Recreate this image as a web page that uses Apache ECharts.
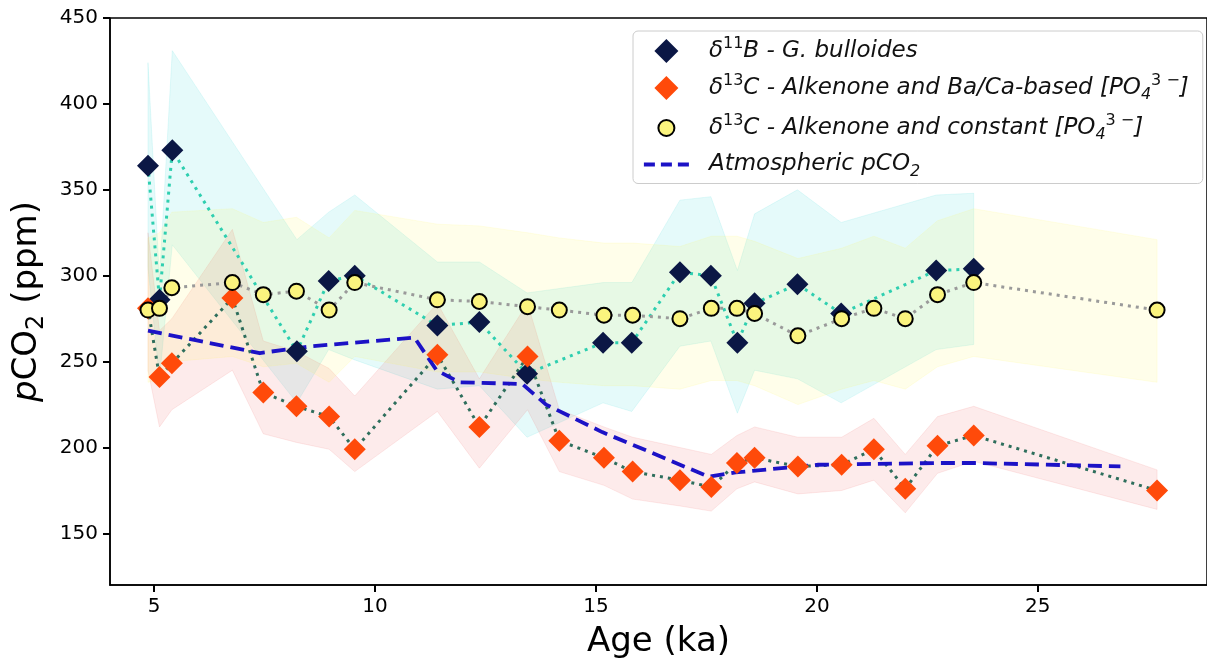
<!DOCTYPE html>
<html>
<head>
<meta charset="utf-8">
<title>pCO2 vs age</title>
<script src="https://cdn.jsdelivr.net/npm/echarts@6/dist/echarts.min.js"></script>
<style>
  html, body { margin: 0; padding: 0; background: #fff; }
  #chart { width: 1207px; height: 664px; }
</style>
</head>
<body>
<div id="chart"></div>
<script>
// d11B - G. bulloides
const boronAge = [4.86, 5.12, 5.41, 8.23, 8.95, 9.54, 11.41, 12.36, 13.44, 15.16, 15.81, 16.9, 17.6, 18.2, 18.59, 19.56, 20.55, 22.7, 23.55];
const boronCO2 = [364, 286, 373, 256, 297, 300, 271, 273, 243, 261, 261, 302, 300, 261, 284, 295, 278, 303, 304];
const boronHi = [424, 298, 431, 321, 337, 347, 308, 308, 290, 296, 296, 344, 346, 303, 336, 350, 331, 347, 348];
const boronLo = [305, 240, 318, 226, 257, 251, 234, 236, 206, 226, 221, 259, 262, 220, 245, 240, 226, 257, 260];

// d13C - alkenone, same ages for both phosphate scenarios
const carbonAge = [4.86, 5.12, 5.4, 6.77, 7.47, 8.22, 8.96, 9.54, 11.41, 12.36, 13.45, 14.17, 15.18, 15.83, 16.9, 17.61, 18.19, 18.59, 19.57, 20.56, 21.29, 22.0, 22.73, 23.55, 27.7];
const bacaCO2 = [281, 241, 249, 287, 232, 224, 218, 199, 254, 212, 253, 204, 194, 186, 181, 177, 191, 194, 189, 190, 199, 176, 201, 207, 175];
const bacaHi = [325, 268, 275, 327, 262, 256, 246, 230, 284, 240, 284, 222, 212, 206, 200, 196, 207, 212, 206, 206, 217, 196, 218, 224, 187];
const bacaLo = [245, 212, 222, 245, 208, 203, 199, 186, 221, 188, 222, 186, 178, 170, 166, 163, 176, 180, 173, 175, 181, 162, 185, 192, 164];
const constCO2 = [280, 281, 293, 296, 289, 291, 280, 296, 286, 285, 282, 280, 277, 277, 275, 281, 281, 278, 265, 275, 281, 275, 289, 296, 280];
const constHi = [322, 325, 337, 339, 331, 334, 322, 338, 330, 329, 325, 322, 319, 319, 317, 323, 323, 320, 310, 316, 323, 316, 332, 339, 321];
const constLo = [238, 239, 250, 253, 247, 249, 238, 253, 244, 244, 240, 238, 236, 236, 234, 239, 239, 236, 225, 234, 239, 234, 247, 253, 238];

// atmospheric pCO2
const atmAge = [4.86, 7.39, 8.59, 10.89, 11.39, 11.91, 13.33, 13.87, 15.14, 16.26, 17.55, 18.16, 20.03, 22.74, 23.58, 26.87];
const atmCO2 = [268, 255, 259, 264, 245, 238, 237, 225, 209, 197, 183, 185.5, 190, 191, 191, 189];

const xTicks = [5, 10, 15, 20, 25];
const yTicks = [150, 200, 250, 300, 350, 400, 450];

const FONT = "DejaVu Sans";
const NAVY = "#0b1745";
const ORANGE = "#ff4a0a";
const YELLOW = "#fbf47e";
const ATM = "#1c12c6";

const pairs = (xs, ys) => xs.map((x, i) => [x, ys[i]]);

// uncertainty envelope drawn as one polygon through the axes' coord mapping
const band = (ages, lo, hi, color) => ({
  type: "custom",
  silent: true,
  z: 1,
  data: [[ages[0], lo[0]]],
  renderItem: (params, api) => {
    const pts = ages.map((a, i) => api.coord([a, hi[i]]));
    for (let i = ages.length - 1; i >= 0; i--) pts.push(api.coord([ages[i], lo[i]]));
    return {
      type: "polygon",
      shape: { points: pts },
      style: { fill: color, stroke: color, lineWidth: 1 },
    };
  },
});

const connector = (ages, vals, color) => ({
  type: "line",
  z: 2,
  silent: true,
  symbol: "none",
  data: pairs(ages, vals),
  lineStyle: { color, width: 3, type: [3, 5], cap: "butt" },
});

const LABELS = {
  b11: "{d|δ}{sup|11}{t|B - G. bulloides}",
  baca: "{d|δ}{sup|13}{t|C - Alkenone and Ba/Ca-based [PO}{sub|4}{sup|3 −}{t|]}",
  konst: "{d|δ}{sup|13}{t|C - Alkenone and constant [PO}{sub|4}{sup|3 −}{t|]}",
  atm: "{t|Atmospheric pCO}{sub|2}",
};

const DIAMOND = "path://M12,0L24,12L12,24L0,12Z";
const RING = "path://M0,0M24,24M4,12a8,8 0 1,0 16,0a8,8 0 1,0 -16,0";

const chart = echarts.init(document.getElementById("chart"));

chart.setOption({
  animation: false,
  backgroundColor: "#fff",
  grid: {
    left: 110, top: 18, width: 1100, bottom: 79,
    show: true, borderColor: "#000", borderWidth: 1.5,
  },
  legend: {
    orient: "vertical",
    left: 633, top: 31,
    padding: [5, 14, 4, 9],
    itemGap: 10,
    itemWidth: 45,
    itemHeight: 24,
    backgroundColor: "rgba(255,255,255,0.85)",
    borderColor: "#cccccc",
    borderWidth: 1,
    borderRadius: 5,
    selectedMode: false,
    data: [
      { name: "b11", icon: DIAMOND },
      { name: "baca", icon: DIAMOND },
      { name: "konst", icon: RING },
      {
        name: "atm",
        itemStyle: { opacity: 0, color: "rgba(0,0,0,0)", borderWidth: 0 },
        lineStyle: { width: 3.8, type: [11, 6], color: ATM },
      },
    ],
    formatter: (name) => LABELS[name],
    textStyle: {
      fontFamily: FONT,
      fontSize: 23,
      color: "#111",
      padding: [0, 0, 0, 15],
      rich: {
        d: { fontFamily: FONT, fontSize: 23, fontStyle: "italic", lineHeight: 30, color: "#111" },
        t: { fontFamily: FONT, fontSize: 23, fontStyle: "italic", lineHeight: 30, color: "#111" },
        sup: { fontFamily: FONT, fontSize: 16, lineHeight: 16, verticalAlign: "top", color: "#111" },
        sub: { fontFamily: FONT, fontSize: 16, lineHeight: 18, verticalAlign: "bottom", fontStyle: "italic", color: "#111" },
      },
    },
  },
  xAxis: {
    type: "value",
    min: 4,
    max: 28.83,
    name: "Age (ka)",
    nameLocation: "middle",
    nameGap: 40,
    nameTextStyle: { fontFamily: FONT, fontSize: 34, color: "#000" },
    axisLine: { show: true, onZero: false, lineStyle: { color: "#000", width: 1.5 } },
    axisTick: { show: true, length: 7, customValues: xTicks, lineStyle: { color: "#000", width: 2 } },
    axisLabel: { customValues: xTicks, fontFamily: FONT, fontSize: 20, color: "#000", margin: 12 },
    splitLine: { show: false },
  },
  yAxis: {
    type: "value",
    min: 120,
    max: 450,
    name: "{i|p}{n|CO}{s|2}{n| (ppm)}",
    nameLocation: "middle",
    nameRotate: 90,
    nameGap: 52,
    nameTextStyle: {
      fontFamily: FONT, fontSize: 34, color: "#000",
      rich: {
        i: { fontFamily: FONT, fontSize: 34, fontStyle: "italic", lineHeight: 44, color: "#000" },
        n: { fontFamily: FONT, fontSize: 34, lineHeight: 44, color: "#000" },
        s: { fontFamily: FONT, fontSize: 24, lineHeight: 26, verticalAlign: "bottom", color: "#000" },
      },
    },
    axisLine: { show: true, onZero: false, lineStyle: { color: "#000", width: 1.5 } },
    axisTick: { show: true, length: 7, customValues: yTicks, lineStyle: { color: "#000", width: 2 } },
    axisLabel: { customValues: yTicks, fontFamily: FONT, fontSize: 20, color: "#000", margin: 12 },
    splitLine: { show: false },
  },
  series: [
    band(boronAge, boronLo, boronHi, "rgba(0,206,209,0.10)"),
    band(carbonAge, bacaLo, bacaHi, "rgba(240,90,90,0.12)"),
    band(carbonAge, constLo, constHi, "rgba(255,250,60,0.11)"),
    connector(boronAge, boronCO2, "#2fcfb0"),
    connector(carbonAge, bacaCO2, "#2e6e5c"),
    connector(carbonAge, constCO2, "#9a9a9a"),
    {
      name: "atm",
      type: "line",
      z: 3,
      symbol: "none",
      data: pairs(atmAge, atmCO2),
      lineStyle: { color: ATM, width: 3.8, type: [14, 7] },
      itemStyle: { color: ATM },
    },
    {
      name: "b11",
      type: "scatter",
      z: 4,
      symbol: "diamond",
      symbolSize: 22,
      data: pairs(boronAge, boronCO2),
      itemStyle: { color: NAVY, opacity: 1 },
    },
    {
      name: "baca",
      type: "scatter",
      z: 5,
      symbol: "diamond",
      symbolSize: 22,
      data: pairs(carbonAge, bacaCO2),
      itemStyle: { color: ORANGE, opacity: 1 },
    },
    {
      name: "konst",
      type: "scatter",
      z: 6,
      symbol: "circle",
      symbolSize: 15,
      data: pairs(carbonAge, constCO2),
      itemStyle: { color: YELLOW, borderColor: "#000", borderWidth: 2, opacity: 1 },
    },
  ],
});
</script>
</body>
</html>
